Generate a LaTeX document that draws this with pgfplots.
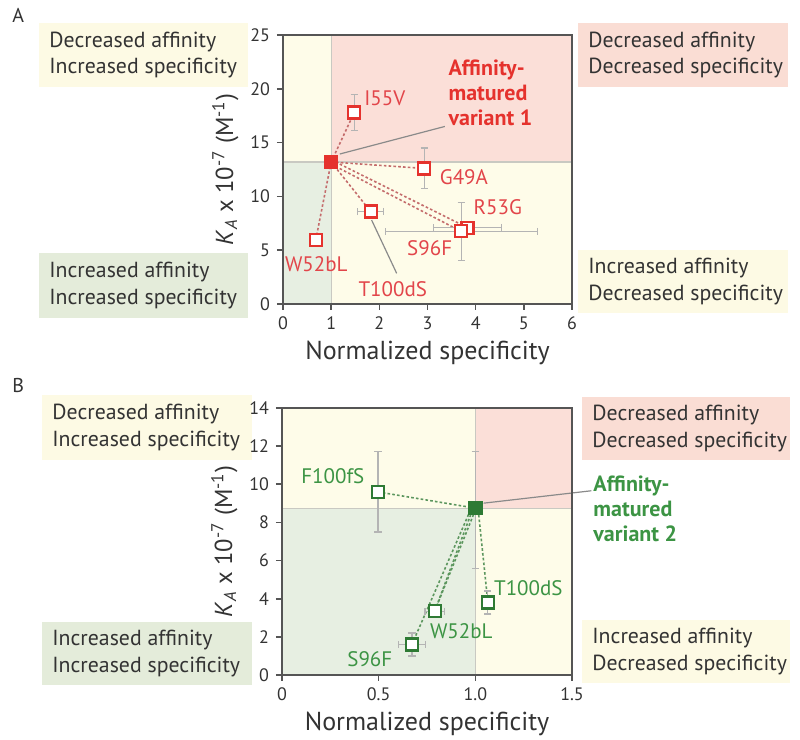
\documentclass[border=0pt]{standalone}
\usepackage{fontspec}
\setmainfont{PT Sans}
\usepackage{pgfplots}
\pgfplotsset{compat=1.18}
\definecolor{byellow}{HTML}{FDFAE4}
\definecolor{bpink}{HTML}{FADDD4}
\definecolor{bgreen}{HTML}{E4ECDA}
\definecolor{qyellow}{HTML}{FEFCE9}
\definecolor{qpink}{HTML}{FBDFD8}
\definecolor{qgreen}{HTML}{E7EFE2}
\definecolor{mred}{HTML}{E5322D}
\definecolor{lred}{HTML}{E2454A}
\definecolor{dred}{HTML}{C46C6C}
\definecolor{mgreen}{HTML}{2E7A34}
\definecolor{lgreen}{HTML}{3C9444}
\definecolor{dgreen}{HTML}{5C965E}
\definecolor{axgray}{HTML}{555555}
\definecolor{tgray}{HTML}{333333}
\definecolor{errgray}{HTML}{B4B4B4}
\definecolor{divgray}{HTML}{C9C9C2}
\definecolor{callgray}{HTML}{8A8A8A}

\pgfplotstableread{
x y ex ey
1.48 17.8 0.08 1.65
2.93 12.6 0.08 1.9
1.82 8.6 0.27 0.5
3.83 7.1 0.7 0.3
3.70 6.75 1.58 2.7
0.68 5.95 0.06 0.3
}\dataA
\pgfplotstableread{
x y ex ey
0.497 9.6 0.03 2.1
0.79 3.35 0.05 0.25
1.065 3.8 0.02 0.6
0.672 1.6 0.07 0.6
}\dataB

\pgfplotsset{
  myaxis/.style={
    anchor=south west, scale only axis,
    axis on top, clip=false,
    axis line style={draw=axgray, line width=0.9pt},
    tick style={draw=axgray, line width=0.8pt},
    tick align=outside, tick pos=left, major tick length=3pt,
    /pgf/number format/assume math mode=true,
    ticklabel style={font=\fontsize{9}{10}\selectfont, text=tgray},
    xlabel={Normalized specificity},
    xlabel style={font=\fontsize{13}{14}\selectfont, text=tgray, yshift=1.5pt},
    ylabel={\textit{K}\textsubscript{\textit{A}} x 10\textsuperscript{-7} (M\textsuperscript{-1})},
    ylabel style={font=\fontsize{12.3}{13}\selectfont, text=tgray, yshift=-1pt},
  },
  redline/.style={draw=dred, line width=0.8pt, dash pattern=on 1.3pt off 1.1pt},
  greenline/.style={draw=dgreen, line width=0.8pt, dash pattern=on 1.3pt off 1.1pt},
}

\begin{document}
\begin{tikzpicture}[x=1pt,y=1pt]
\useasboundingbox (0,0) rectangle (400,370);
\tikzset{boxtext/.style={anchor=west, align=left, inner sep=0pt, font=\fontsize{10.9}{13.3}\selectfont, text=tgray}}
% Panel A boxes
\fill[byellow] (19.5,326.5) rectangle (124,358.5);
\node[boxtext] at (24.5,342.5) {Decreased affinity\\Increased specificity};
\fill[bgreen] (19.5,211) rectangle (124,243.5);
\node[boxtext] at (24.5,227.3) {Increased affinity\\Increased specificity};
\fill[bpink] (289,326.5) rectangle (394,358.5);
\node[boxtext] at (294,342.5) {Decreased affinity\\Decreased specificity};
\fill[byellow] (289,213.5) rectangle (394,245);
\node[boxtext] at (294,229.3) {Increased affinity\\Decreased specificity};
% Panel B boxes
\fill[byellow] (21,140) rectangle (126,172.5);
\node[boxtext] at (26,156.3) {Decreased affinity\\Increased specificity};
\fill[bgreen] (21,27.5) rectangle (126,59);
\node[boxtext] at (26,43.3) {Increased affinity\\Increased specificity};
\fill[bpink] (291,140) rectangle (395,171.5);
\node[boxtext] at (296,155.8) {Decreased affinity\\Decreased specificity};
\fill[byellow] (291,28.5) rectangle (395,60);
\node[boxtext] at (296,44.3) {Increased affinity\\Decreased specificity};
% panel letters
\node[anchor=north west, inner sep=0pt, font=\fontsize{10}{12}\selectfont, text=tgray] at (6,366) {A};
\node[anchor=north west, inner sep=0pt, font=\fontsize{10}{12}\selectfont, text=tgray] at (6,181) {B};

% ---------------- Panel A ----------------
\begin{axis}[myaxis, at={(141.5pt,218pt)}, width=144.5pt, height=134.5pt,
  xmin=0, xmax=6, ymin=0, ymax=25,
  xtick={0,1,2,3,4,5,6}, ytick={0,5,10,15,20,25}]
\fill[qyellow] (0,13.2) rectangle (1,25);
\fill[qpink] (1,13.2) rectangle (6,25);
\fill[qgreen] (0,0) rectangle (1,13.2);
\fill[qyellow] (1,0) rectangle (6,13.2);
\draw[divgray, line width=0.6pt] (0,13.2) -- (6,13.2);
\draw[divgray, line width=0.6pt] (1,0) -- (1,25);
\draw[callgray, line width=0.6pt] (1.18,13.94) -- (3.36,16.5);
\draw[callgray, line width=0.6pt] (1.84,7.8) -- (2.36,2.85);
\addplot[redline] coordinates {(1,13.2) (1.48,17.8)};
\addplot[redline] coordinates {(1,13.2) (2.93,12.6)};
\addplot[redline] coordinates {(1,13.2) (1.82,8.6)};
\addplot[redline] coordinates {(1,13.4) (3.83,7.1)};
\addplot[redline] coordinates {(1,13.0) (3.70,6.75)};
\addplot[redline] coordinates {(1,13.2) (0.68,5.95)};
\addplot[only marks, mark=square*, mark size=3pt,
  mark options={fill=white, draw=mred, line width=1.1pt},
  error bars/.cd, x dir=both, x explicit, y dir=both, y explicit,
  error bar style={draw=errgray, line width=0.6pt},
  error mark options={rotate=90, mark size=1.8pt, draw=errgray, line width=0.6pt}]
  table[x=x, y=y, x error=ex, y error=ey] {\dataA};
\addplot[only marks, mark=square*, mark size=3.3pt,
  mark options={fill=mred, draw=mred, line width=0.6pt}] coordinates {(1,13.2)};
\tikzset{lab/.style={inner sep=0pt, font=\fontsize{10.5}{12}\selectfont, text=lred}}
\node[lab, anchor=west] at (1.68,19.1) {I55V};
\node[lab, anchor=west] at (3.25,11.75) {G49A};
\node[lab, anchor=west] at (3.95,8.98) {R53G};
\node[lab, anchor=east] at (3.52,5.23) {S96F};
\node[lab, anchor=west] at (0.035,3.72) {W52bL};
\node[lab, anchor=west] at (1.56,1.39) {T100dS};
\node[anchor=north west, align=left, inner sep=0pt, font=\fontsize{11}{12.5}\selectfont\bfseries, text=mred] at (3.43,22.7) {Affinity-\\matured\\variant 1};
\end{axis}

% ---------------- Panel B ----------------
\begin{axis}[myaxis, at={(141pt,32.5pt)}, width=145pt, height=133.5pt,
  xmin=0, xmax=1.5, ymin=0, ymax=14,
  xtick={0,0.5,1,1.5}, xticklabels={0,0.5,1.0,1.5}, ytick={0,2,4,6,8,10,12,14}]
\fill[qyellow] (0,8.75) rectangle (1,14);
\fill[qpink] (1,8.75) rectangle (1.5,14);
\fill[qgreen] (0,0) rectangle (1,8.75);
\fill[qyellow] (1,0) rectangle (1.5,8.75);
\draw[divgray, line width=0.6pt] (0,8.75) -- (1.5,8.75);
\draw[divgray, line width=0.6pt] (1,0) -- (1,14);
\draw[callgray, line width=0.6pt] (1.043,9.01) -- (1.60,9.66);
\addplot[only marks, mark=none,
  error bars/.cd, y dir=both, y explicit,
  error bar style={draw=errgray, line width=0.6pt},
  error mark options={rotate=90, mark size=1.8pt, draw=errgray, line width=0.6pt}]
  coordinates {(1.0,8.65) +- (0,3.05)};
\addplot[greenline] coordinates {(1,8.75) (0.497,9.6)};
\addplot[greenline] coordinates {(0.985,8.65) (0.79,3.35)};
\addplot[greenline] coordinates {(1.0,8.65) (0.79,3.35)};
\addplot[greenline] coordinates {(0.975,8.65) (0.672,1.6)};
\addplot[greenline] coordinates {(1.015,8.65) (1.065,3.8)};
\addplot[only marks, mark=square*, mark size=3pt,
  mark options={fill=white, draw=mgreen, line width=1.1pt},
  error bars/.cd, x dir=both, x explicit, y dir=both, y explicit,
  error bar style={draw=errgray, line width=0.6pt},
  error mark options={rotate=90, mark size=1.8pt, draw=errgray, line width=0.6pt}]
  table[x=x, y=y, x error=ex, y error=ey] {\dataB};
\addplot[only marks, mark=square*, mark size=3.3pt,
  mark options={fill=mgreen, draw=mgreen, line width=0.6pt}] coordinates {(1.0,8.75)};
\tikzset{labg/.style={inner sep=0pt, font=\fontsize{10.5}{12}\selectfont, text=lgreen}}
\node[labg, anchor=west] at (0.098,10.43) {F100fS};
\node[labg, anchor=west] at (0.764,2.28) {W52bL};
\node[labg, anchor=west] at (0.336,0.84) {S96F};
\node[labg, anchor=west] at (1.095,4.57) {T100dS};
\node[anchor=north west, align=left, inner sep=0pt, font=\fontsize{11}{12.5}\selectfont\bfseries, text=lgreen] at (1.609,10.45) {Affinity-\\matured\\variant 2};
\end{axis}
\end{tikzpicture}
\end{document}
